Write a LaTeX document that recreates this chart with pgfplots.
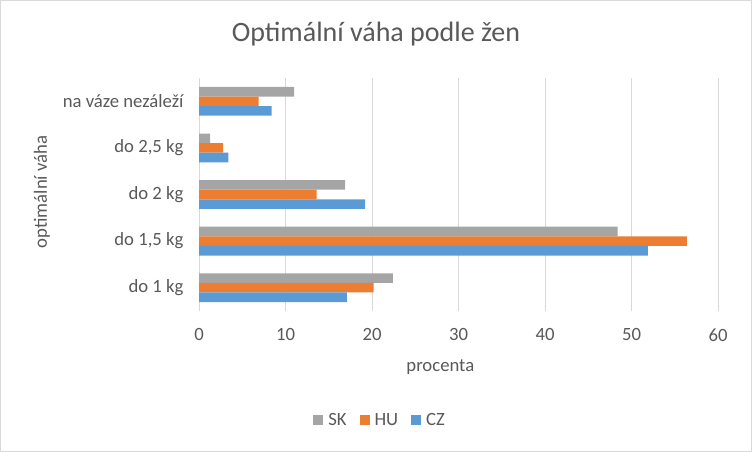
\documentclass[border=0pt]{standalone}
\usepackage{fontspec}
\setmainfont{Carlito}
\usepackage{pgfplots}
\pgfplotsset{compat=1.18}
\definecolor{czblue}{HTML}{5B9BD5}
\definecolor{huorange}{HTML}{ED7D31}
\definecolor{skgray}{HTML}{A5A5A5}
\definecolor{txt}{HTML}{595959}
\definecolor{gridc}{HTML}{D9D9D9}
\begin{document}
\begin{tikzpicture}[x=1pt,y=1pt]
\draw[gridc, line width=1pt] (0.5,0.5) rectangle (751.5,451.5);
\begin{axis}[
  at={(199pt,141pt)}, anchor=south west,
  scale only axis, width=519pt, height=233pt,
  xmin=0, xmax=60, ymin=-0.5, ymax=4.5,
  xbar, bar width=9.6pt,
  xtick={0,10,...,60},
  ytick={0,1,2,3,4},
  yticklabels={{do 1 kg},{do 1,5 kg},{do 2 kg},{do 2,5 kg},{na váze nezáleží}},
  /pgf/number format/assume math mode=true,
  xmajorgrids=true, ymajorgrids=false, yminorgrids=false, xminorgrids=false,
  x grid style={gridc, line width=1pt},
  axis line style={draw=none},
  major tick length=0pt,
  tick label style={font=\fontsize{18.7}{22}\selectfont, text=txt},
  yticklabel style={xshift=-12pt},
  xticklabel style={yshift=-14pt},
  xlabel={procenta},
  ylabel={optimální váha},
  label style={font=\fontsize{18.7}{22}\selectfont, text=txt},
  xlabel style={at={(axis description cs:0.465,-0.240)}, anchor=center},
  ylabel style={at={(axis description cs:-0.3025,0.511)}, anchor=center},
  title={Optimální váha podle žen},
  title style={font=\fontsize{28}{32}\selectfont, text=txt, at={(axis description cs:0.341,1.163)}, anchor=center},
  legend columns=3,
  legend style={at={(axis description cs:0.349,-0.468)}, anchor=center, draw=none, fill=none,
    font=\fontsize{18.7}{22}\selectfont, text=txt,
    /tikz/every odd column/.append style={column sep=3pt},
    /tikz/every even column/.append style={column sep=11pt}},
  legend image code/.code={\fill (0pt,-5pt) rectangle (10pt,5pt);},
]
\addplot[draw=none, fill=skgray, bar shift=9.6pt] coordinates {(22.4,0) (48.4,1) (16.9,2) (1.3,3) (11.0,4)};
\addplot[draw=none, fill=huorange, bar shift=0pt] coordinates {(20.2,0) (56.4,1) (13.6,2) (2.8,3) (6.9,4)};
\addplot[draw=none, fill=czblue, bar shift=-9.6pt] coordinates {(17.1,0) (51.9,1) (19.2,2) (3.4,3) (8.4,4)};
\legend{SK,HU,CZ}
\end{axis}
\end{tikzpicture}
\end{document}
